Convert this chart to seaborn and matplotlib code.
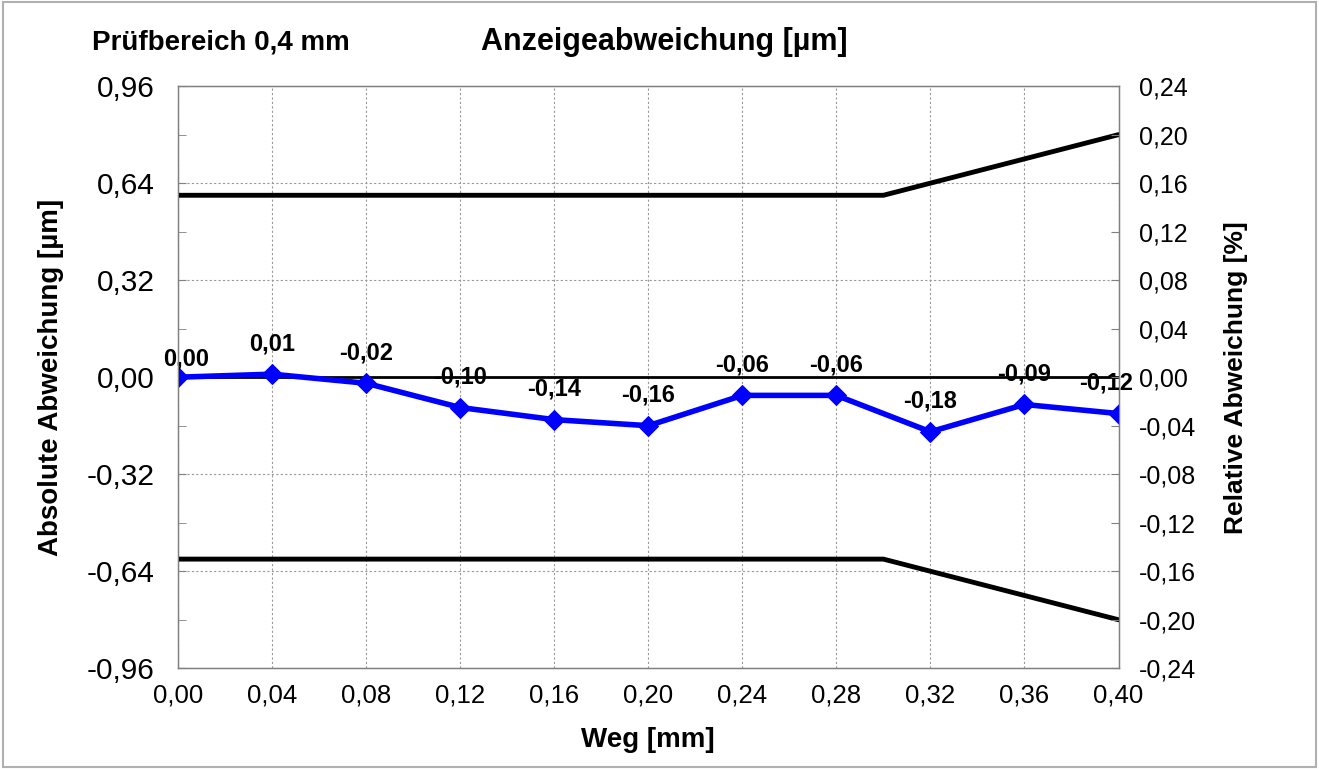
import numpy as np
import pandas as pd
import seaborn as sns
import matplotlib.pyplot as plt
from matplotlib.ticker import FuncFormatter, MultipleLocator
from matplotlib.patches import Rectangle

# Messwerte
weg = [0.00, 0.04, 0.08, 0.12, 0.16, 0.20, 0.24, 0.28, 0.32, 0.36, 0.40]
abweichung = [0.00, 0.01, -0.02, -0.10, -0.14, -0.16, -0.06, -0.06, -0.18, -0.09, -0.12]

# Toleranzgrenzen
tol_weg = [0.00, 0.30, 0.40]
tol_oben = [0.60, 0.60, 0.80]
tol_unten = [-0.60, -0.60, -0.80]

sns.set_style("white")
plt.rcParams['font.family'] = ['Liberation Sans', 'DejaVu Sans']
plt.rcParams['text.color'] = 'black'
plt.rcParams['axes.labelcolor'] = 'black'
plt.rcParams['xtick.labelcolor'] = 'black'
plt.rcParams['ytick.labelcolor'] = 'black'

df = pd.DataFrame({'Weg': weg, 'Abweichung': abweichung})
tol = pd.DataFrame({'Weg': tol_weg, 'oben': tol_oben, 'unten': tol_unten})

fig = plt.figure(figsize=(13.19, 7.69), dpi=100)
ax = fig.add_axes([0.135, 0.131, 0.713, 0.757])

komma = FuncFormatter(lambda v, p: f"{v:.2f}".replace('.', ','))

ax.axhline(0, color='black', lw=2, zorder=2)
sns.lineplot(data=tol, x='Weg', y='oben', color='black', lw=3.5, ax=ax, zorder=3)
sns.lineplot(data=tol, x='Weg', y='unten', color='black', lw=3.5, ax=ax, zorder=3)
sns.lineplot(data=df, x='Weg', y='Abweichung', color='#0000ff', lw=4,
             marker='D', markersize=10, markeredgecolor='#0000ff', ax=ax, zorder=4)

# Datenbeschriftungen über den Punkten
for x, y in zip(weg, abweichung):
    dx, dy = 0, 22
    if x == weg[0]:
        dx, dy = 6, 13
    elif x == weg[-1]:
        dx = -9
    ax.annotate(f"{y:.2f}".replace('.', ','), (x, y), xytext=(dx, dy),
                textcoords='offset points', ha='center', va='center',
                fontsize=17, fontweight='bold', zorder=5, annotation_clip=False)

ax.set_xlim(0, 0.4)
ax.set_ylim(-0.96, 0.96)
ax.xaxis.set_major_locator(MultipleLocator(0.04))
ax.yaxis.set_major_locator(MultipleLocator(0.32))
ax.yaxis.set_minor_locator(MultipleLocator(0.16))
ax.xaxis.set_major_formatter(komma)
ax.yaxis.set_major_formatter(komma)
ax.grid(True, which='major', color='#999999', ls=(0, (2, 2)), lw=0.8)
ax.tick_params(axis='y', which='both', direction='in', length=6, labelsize=21.5, pad=17, color='#808080')
ax.tick_params(axis='x', length=0, labelsize=18.5, pad=11)
for s in ax.spines.values():
    s.set_color('#808080')
    s.set_linewidth(1)

ax.set_xlabel('Weg [mm]', fontsize=20, fontweight='bold', labelpad=14)
ax.set_ylabel('Absolute Abweichung [µm]', fontsize=20, fontweight='bold', labelpad=16)

ax2 = ax.twinx()
ax2.set_ylim(-0.24, 0.24)
ax2.yaxis.set_major_locator(MultipleLocator(0.04))
ax2.yaxis.set_major_formatter(komma)
ax2.tick_params(axis='y', direction='in', length=6, labelsize=18, pad=15, color='#808080')
for s in ax2.spines.values():
    s.set_color('#808080')
ax2.set_ylabel('Relative Abweichung [%]', fontsize=19, fontweight='bold', labelpad=20)

fig.text(0.07, 0.945, 'Prüfbereich 0,4 mm', fontsize=20, fontweight='bold', va='center')
fig.text(0.504, 0.945, 'Anzeigeabweichung [µm]', fontsize=22, fontweight='bold',
         va='center', ha='center')

fig.patches.append(Rectangle((0.002, 0.003), 0.996, 0.994, transform=fig.transFigure,
                             fill=False, edgecolor='#b0b0b0', lw=1.5))

fig.savefig('out.png', dpi=100)
